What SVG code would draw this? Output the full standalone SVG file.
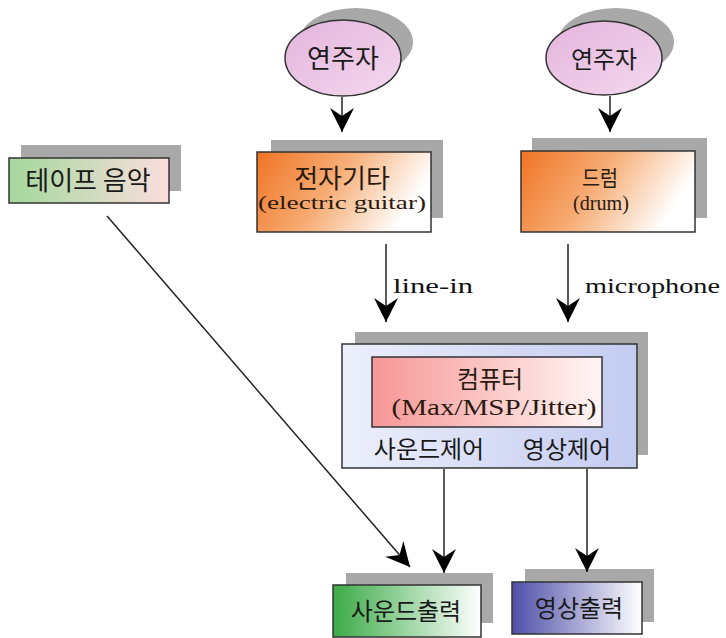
<svg xmlns="http://www.w3.org/2000/svg" width="726" height="638" viewBox="0 0 726 638">
<style>
.sh{fill:#a8a8a8}
.bx{stroke:#333;stroke-width:1.5}
.ko{font-family:"Noto Sans CJK KR","Liberation Sans",sans-serif;fill:#1a1a1a;text-anchor:middle}
.sr{font-family:"Liberation Serif","Noto Sans CJK KR",serif;fill:#2a1a10;text-anchor:middle}
.lb{font-family:"Liberation Serif",serif;fill:#111}
.cn{stroke:#222;stroke-width:1.5;fill:none}
</style>
<defs>
<marker id="ah" viewBox="0 0 24 24" refX="24" refY="12" markerWidth="24" markerHeight="24" markerUnits="userSpaceOnUse" orient="auto">
<path d="M24,12 L0,0 L8,12 L0,24 Z" fill="#000"/>
</marker>
<linearGradient id="gEl" x1="0" y1="0" x2="1" y2="1"><stop offset="0" stop-color="#e3b4dc"/><stop offset="1" stop-color="#f4d8ee"/></linearGradient>
<linearGradient id="gTape" x1="0" y1="0" x2="1" y2="0"><stop offset="0" stop-color="#a4d89c"/><stop offset="1" stop-color="#fbdede"/></linearGradient>
<linearGradient id="gOr" x1="0" y1="0" x2="1" y2="0.3"><stop offset="0" stop-color="#f07424"/><stop offset="0.5" stop-color="#f6ac74"/><stop offset="1" stop-color="#ffffff"/></linearGradient>
<linearGradient id="gComp" x1="0" y1="0" x2="1" y2="0"><stop offset="0" stop-color="#eceffb"/><stop offset="1" stop-color="#c3cbf0"/></linearGradient>
<linearGradient id="gIn" x1="0" y1="0" x2="1" y2="0"><stop offset="0" stop-color="#f79696"/><stop offset="1" stop-color="#fff6f6"/></linearGradient>
<linearGradient id="gGr" x1="0" y1="0" x2="1" y2="0"><stop offset="0" stop-color="#3cab48"/><stop offset="1" stop-color="#ffffff"/></linearGradient>
<linearGradient id="gPu" x1="0" y1="0" x2="1" y2="0"><stop offset="0" stop-color="#4e4ea8"/><stop offset="1" stop-color="#ffffff"/></linearGradient>
</defs>

<g id="player1">
<ellipse class="sh" cx="356" cy="42" rx="57" ry="34"/>
<ellipse class="bx" cx="343" cy="58" rx="58" ry="38" fill="url(#gEl)"/>
<text class="ko" x="343" y="68" font-size="26">연주자</text>
</g>
<g id="player2">
<ellipse class="sh" cx="616" cy="42" rx="58" ry="34"/>
<ellipse class="bx" cx="604" cy="58" rx="58" ry="37" fill="url(#gEl)"/>
<text class="ko" x="604" y="68" font-size="24">연주자</text>
</g>

<g id="tape">
<rect class="sh" x="21" y="145" width="160" height="46"/>
<rect class="bx" x="9" y="158" width="160" height="45" fill="url(#gTape)"/>
<text class="ko" x="88" y="190" font-size="26">테이프 음악</text>
</g>

<g id="guitar">
<rect class="sh" x="271" y="140" width="172" height="78"/>
<rect class="bx" x="257" y="152" width="174" height="80" fill="url(#gOr)"/>
<text class="sr" x="342" y="188" font-size="26">전자기타</text>
<text class="sr" x="342" y="209" font-size="18" textLength="168" lengthAdjust="spacingAndGlyphs">(electric guitar)</text>
</g>

<g id="drum">
<rect class="sh" x="532" y="138" width="175" height="80"/>
<rect class="bx" x="521" y="151" width="174" height="81" fill="url(#gOr)"/>
<text class="sr" x="600" y="186" font-size="22" textLength="36" lengthAdjust="spacingAndGlyphs">드럼</text>
<text class="sr" x="601" y="210" font-size="20" textLength="56" lengthAdjust="spacingAndGlyphs">(drum)</text>
</g>

<g id="computer">
<rect class="sh" x="355" y="332" width="293" height="123"/>
<rect class="bx" x="342" y="344" width="295" height="124" fill="url(#gComp)"/>
<rect class="bx" x="372" y="357" width="230" height="70" fill="url(#gIn)" stroke-width="1.2"/>
<text class="sr" x="490" y="388" font-size="24">컴퓨터</text>
<text class="sr" x="494" y="415" font-size="23" textLength="205" lengthAdjust="spacingAndGlyphs">(Max/MSP/Jitter)</text>
<text class="ko" x="429" y="458" font-size="24">사운드제어</text>
<text class="ko" x="567" y="458" font-size="24">영상제어</text>
</g>

<g id="soundout">
<rect class="sh" x="346" y="573" width="147" height="50"/>
<rect class="bx" x="333" y="585" width="148" height="52" fill="url(#gGr)"/>
<text class="ko" x="406" y="620" font-size="24">사운드출력</text>
</g>

<g id="videoout">
<rect class="sh" x="525" y="569" width="129" height="53"/>
<rect class="bx" x="512" y="582" width="130" height="52" fill="url(#gPu)"/>
<text class="ko" x="579" y="617" font-size="24">영상출력</text>
</g>

<g id="connectors">
<line class="cn" x1="342" y1="97" x2="342" y2="132" marker-end="url(#ah)"/>
<line class="cn" x1="610" y1="96" x2="610" y2="132" marker-end="url(#ah)"/>
<line class="cn" x1="386" y1="244" x2="386" y2="322" marker-end="url(#ah)"/>
<line class="cn" x1="568" y1="244" x2="568" y2="322" marker-end="url(#ah)"/>
<line class="cn" x1="444" y1="469" x2="444" y2="573" marker-end="url(#ah)"/>
<line class="cn" x1="587" y1="469" x2="587" y2="572" marker-end="url(#ah)"/>
<line class="cn" x1="107" y1="216" x2="410" y2="567" stroke-width="1.2" marker-end="url(#ah)"/>
<text class="lb" x="393" y="293" font-size="22" textLength="80" lengthAdjust="spacingAndGlyphs">line-in</text>
<text class="lb" x="585" y="293" font-size="22" textLength="135" lengthAdjust="spacingAndGlyphs">microphone</text>
</g>
</svg>
